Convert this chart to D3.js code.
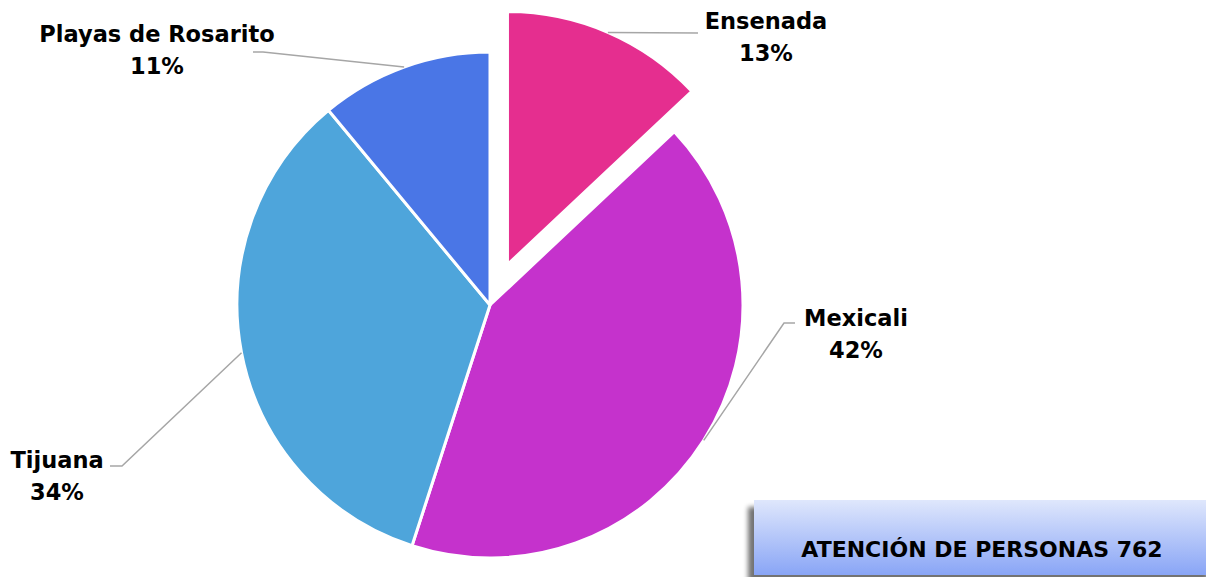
<!DOCTYPE html>
<html>
<head>
<meta charset="utf-8">
<script src="https://cdn.jsdelivr.net/npm/d3@7"></script>
<style>
  body { margin: 0; background: #fff; }
  text { font-family: "DejaVu Sans", sans-serif; font-weight: bold; fill: #000; }
</style>
</head>
<body>
<div id="chart"></div>
<script>
const categories = ['Ensenada', 'Mexicali', 'Tijuana', 'Playas de Rosarito'];
const values = [99, 320, 259, 84];
const percentLabels = ['13%', '42%', '34%', '11%'];
const totalLabel = 'ATENCIÓN DE PERSONAS 762';

const colors = ['#e52e8f', '#c532cc', '#4ea5db', '#4a76e6'];

const width = 1206;
const height = 577;
const cx = 490;
const cy = 305;
const radius = 253;
const explode = [44, 0, 0, 0];

// label anchors (text centre) and leader elbow points
const labelLayout = [
    { x: 766, y: 29, elbow: [698, 33], end: [698, 33] },
    { x: 856, y: 326, elbow: [784, 323], end: [795, 323] },
    { x: 57, y: 468, elbow: [122, 466], end: [110, 466] },
    { x: 157, y: 42, elbow: [263, 52], end: [253, 52] }
];

const data = categories.map((c, i) => ({ name: c, value: values[i], pct: percentLabels[i], i: i }));

const svg = d3.select('#chart')
  .append('svg')
    .attr('width', width)
    .attr('height', height);

const defs = svg.append('defs');
const grad = defs.append('linearGradient')
    .attr('id', 'boxGrad')
    .attr('x1', 0).attr('y1', 0).attr('x2', 0).attr('y2', 1);
grad.append('stop').attr('offset', '0%').attr('stop-color', '#dfe7fc');
grad.append('stop').attr('offset', '100%').attr('stop-color', '#89a5f6');

const shadow = defs.append('filter')
    .attr('id', 'shadow')
    .attr('x', '-5%').attr('y', '-20%').attr('width', '110%').attr('height', '140%');
shadow.append('feGaussianBlur').attr('in', 'SourceAlpha').attr('stdDeviation', 2.5);
shadow.append('feOffset').attr('dx', -6).attr('dy', 7).attr('result', 'ob');
shadow.append('feComponentTransfer').append('feFuncA').attr('type', 'linear').attr('slope', 0.55);
const merge = shadow.append('feMerge');
merge.append('feMergeNode');
merge.append('feMergeNode').attr('in', 'SourceGraphic');

const pie = d3.pie()
    .sort(null)
    .value(d => d.value);

const arc = d3.arc()
    .innerRadius(0)
    .outerRadius(radius);

const arcs = pie(data);

function offsetOf(d) {
    const a = (d.startAngle + d.endAngle) / 2;
    const e = explode[d.data.i];
    return [Math.sin(a) * e, -Math.cos(a) * e];
}

const chart = svg.append('g')
    .attr('transform', `translate(${cx}, ${cy})`);

chart.selectAll('.slice')
    .data(arcs)
    .enter()
  .append('path')
    .classed('slice', true)
    .attr('transform', d => `translate(${offsetOf(d)})`)
    .attr('d', arc)
    .style('fill', d => colors[d.data.i])
    .style('stroke', '#fff')
    .style('stroke-width', 3)
    .style('stroke-linejoin', 'round');

// leader lines
svg.selectAll('.leader')
    .data(arcs)
    .enter()
  .append('polyline')
    .classed('leader', true)
    .attr('points', d => {
        const a = (d.startAngle + d.endAngle) / 2;
        const o = offsetOf(d);
        const sx = cx + o[0] + Math.sin(a) * radius;
        const sy = cy + o[1] - Math.cos(a) * radius;
        const l = labelLayout[d.data.i];
        return [[sx, sy], l.elbow, l.end].map(p => p.join(',')).join(' ');
    })
    .style('fill', 'none')
    .style('stroke', '#a6a6a6')
    .style('stroke-width', 1.5);

const labels = svg.selectAll('.label')
    .data(arcs)
    .enter()
  .append('text')
    .classed('label', true)
    .attr('text-anchor', 'middle')
    .style('font-size', '22.5px');

labels.append('tspan')
    .attr('x', d => labelLayout[d.data.i].x)
    .attr('y', d => labelLayout[d.data.i].y)
    .text(d => d.data.name);

labels.append('tspan')
    .attr('x', d => labelLayout[d.data.i].x)
    .attr('y', d => labelLayout[d.data.i].y + 32)
    .text(d => d.data.pct);

// total box
svg.append('rect')
    .attr('x', 754)
    .attr('y', 500)
    .attr('width', 460)
    .attr('height', 75)
    .style('fill', 'url(#boxGrad)')
    .style('filter', 'url(#shadow)');

svg.append('text')
    .attr('x', 982)
    .attr('y', 557)
    .attr('text-anchor', 'middle')
    .style('font-size', '22px')
    .text(totalLabel);
</script>
</body>
</html>
